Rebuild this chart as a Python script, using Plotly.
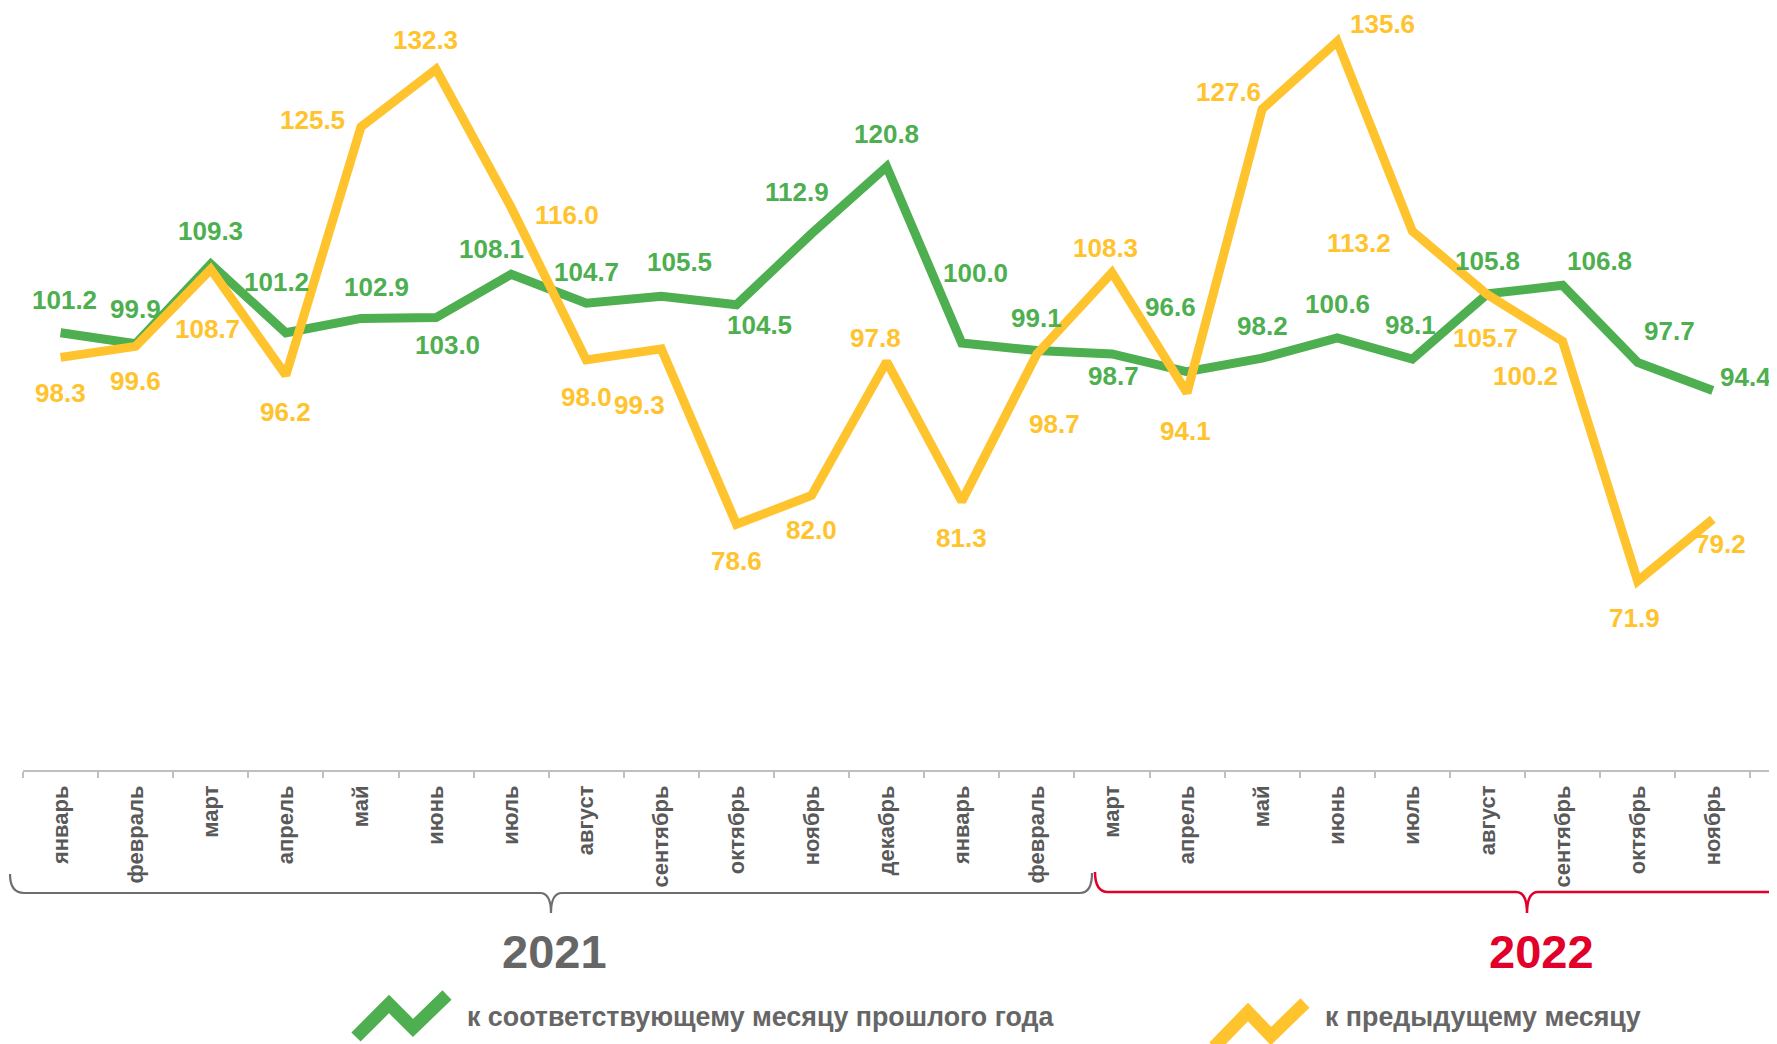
import plotly.graph_objects as go

months = ["январь", "февраль", "март", "апрель", "май", "июнь", "июль", "август",
          "сентябрь", "октябрь", "ноябрь", "декабрь", "январь", "февраль", "март",
          "апрель", "май", "июнь", "июль", "август", "сентябрь", "октябрь", "ноябрь"]
yoy = [101.2, 99.9, 109.3, 101.2, 102.9, 103.0, 108.1, 104.7, 105.5, 104.5, 112.9, 120.8,
       100.0, 99.1, 98.7, 96.6, 98.2, 100.6, 98.1, 105.8, 106.8, 97.7, 94.4]
mom = [98.3, 99.6, 108.7, 96.2, 125.5, 132.3, 116.0, 98.0, 99.3, 78.6, 82.0, 97.8,
       81.3, 98.7, 108.3, 94.1, 127.6, 135.6, 113.2, 105.7, 100.2, 71.9, 79.2]
series_names = ["к соответствующему месяцу прошлого года", "к предыдущему месяцу"]
years = ["2021", "2022"]

# label offsets in pixels (dx, dy downwards)
yoy_off = [(4, -33), (0, -35), (0, -33), (-9, -51), (16, -31), (11, 27), (-20, -25), (0, -31),
           (18, -34), (23, 20), (-15, -42), (0, -33), (14, -70), (0, -33), (2, 22), (-17, -65),
           (0, -32), (0, -34), (-2, -34), (0, -33), (37, -24), (32, -31), (33, -13)]
mom_off = [(0, 36), (0, 35), (-3, 60), (0, 37), (-48, -7), (-11, -29), (56, 8), (0, 37),
           (-22, 56), (0, 37), (0, 35), (-11, -24), (0, 37), (18, 70), (-6, -25), (-2, 38),
           (-34, -17), (45, -17), (-53, 12), (-2, 43), (-37, 35), (-3, 37), (8, 25)]

GREEN = "#4DAF4F"
YELLOW = "#FFC32D"
RED = "#E2002A"
FONT = "Liberation Sans, Arial, sans-serif"

W, H = 1777, 1044
OFF = 8  # page body margin
PL, PR, PT, PB = 15, 1777, 0, 762  # plot area in figure pixels
STEP = 75.1


def px(x):
    return (x - OFF - PL) / (PR - PL)


def py(y):
    return (PB - (y - OFF)) / (PB - PT)


x = list(range(len(months)))
fig = go.Figure()
fig.add_trace(go.Scatter(x=x, y=yoy, mode="lines", line=dict(color=GREEN, width=9),
                         name=series_names[0], showlegend=False))
fig.add_trace(go.Scatter(x=x, y=mom, mode="lines", line=dict(color=YELLOW, width=9),
                         name=series_names[1], showlegend=False))

ann = []
for vals, offs, col in ((yoy, yoy_off, GREEN), (mom, mom_off, YELLOW)):
    for i, v in enumerate(vals):
        dx, dy = offs[i]
        ann.append(dict(x=i, y=v, xref="x", yref="y", text=f"{v:.1f}", showarrow=False,
                        xshift=dx, yshift=-dy, xanchor="center", yanchor="middle",
                        font=dict(family=FONT, size=26, color=col, weight="bold")))

# year labels
ann.append(dict(x=px(554), y=py(951), xref="paper", yref="paper", text=years[0], showarrow=False,
                xanchor="center", yanchor="middle",
                font=dict(family=FONT, size=47, color="#666666", weight="bold")))
ann.append(dict(x=px(1541), y=py(951), xref="paper", yref="paper", text=years[1], showarrow=False,
                xanchor="center", yanchor="middle",
                font=dict(family=FONT, size=47, color=RED, weight="bold")))
# legend texts
ann.append(dict(x=px(465), y=py(1017), xref="paper", yref="paper", text=series_names[0],
                showarrow=False, xanchor="left", yanchor="middle",
                font=dict(family=FONT, size=26.8, color="#666666", weight="bold")))
ann.append(dict(x=px(1323), y=py(1017), xref="paper", yref="paper", text=series_names[1],
                showarrow=False, xanchor="left", yanchor="middle",
                font=dict(family=FONT, size=26.8, color="#666666", weight="bold")))


def path(points, cmds):
    s = ""
    for c, pts in zip(cmds, points):
        s += c + " " + " ".join(f"{px(a):.5f},{py(b):.5f}" for a, b in pts) + " "
    return s.strip()


shapes = []
# 2021 brace (gray)
p1 = path([[(10, 874)], [(10, 893), (24, 893)], [(540, 893)], [(551, 893), (551, 913)],
           [(551, 893), (562, 893)], [(1080, 893)], [(1092, 893), (1092, 873)]],
          ["M", "Q", "L", "Q", "Q", "L", "Q"])
shapes.append(dict(type="path", path=p1, xref="paper", yref="paper",
                   line=dict(color="#6E6E6E", width=2.2)))
# 2022 brace (red)
p2 = path([[(1095, 872)], [(1095, 892), (1108, 892)], [(1516, 892)], [(1527, 892), (1527, 913)],
           [(1527, 892), (1538, 892)], [(1800, 892)]],
          ["M", "Q", "L", "Q", "Q", "L"])
shapes.append(dict(type="path", path=p2, xref="paper", yref="paper",
                   line=dict(color=RED, width=2.5)))
# legend icons
g_icon = [(356, 1037), (389, 1004), (413, 1028), (447, 995)]
y_icon = [(1214, 1047), (1248, 1012), (1271, 1036), (1305, 1003)]
for pts, col in ((g_icon, GREEN), (y_icon, YELLOW)):
    p = "M " + " L ".join(f"{px(a):.5f},{py(b):.5f}" for a, b in pts)
    shapes.append(dict(type="path", path=p, xref="paper", yref="paper",
                       line=dict(color=col, width=13)))

fig.update_layout(
    width=W, height=H,
    margin=dict(l=PL, r=W - PR, t=PT, b=H - PB, pad=0),
    paper_bgcolor="white", plot_bgcolor="white",
    showlegend=False,
    annotations=ann, shapes=shapes,
    xaxis=dict(range=[-0.5, -0.5 + (PR - PL) / STEP], tickmode="array", tickvals=x,
               ticktext=months, tickangle=-90, ticks="", showgrid=False, zeroline=False,
               showline=True, linecolor="#BFBFBF", linewidth=1.5,
               ticklabelstandoff=5,
               tickfont=dict(family=FONT, size=22, color="#595959", weight="bold"),
               minor=dict(tickmode="array", tickvals=[i - 0.5 for i in range(len(months) + 1)],
                          ticks="outside", ticklen=6, tickcolor="#BFBFBF", tickwidth=1.5,
                          showgrid=False)),
    yaxis=dict(range=[49.6, 49.6 + (PB - PT) / 8.473], visible=False, showgrid=False,
               zeroline=False),
)
fig.write_html("out.html")
